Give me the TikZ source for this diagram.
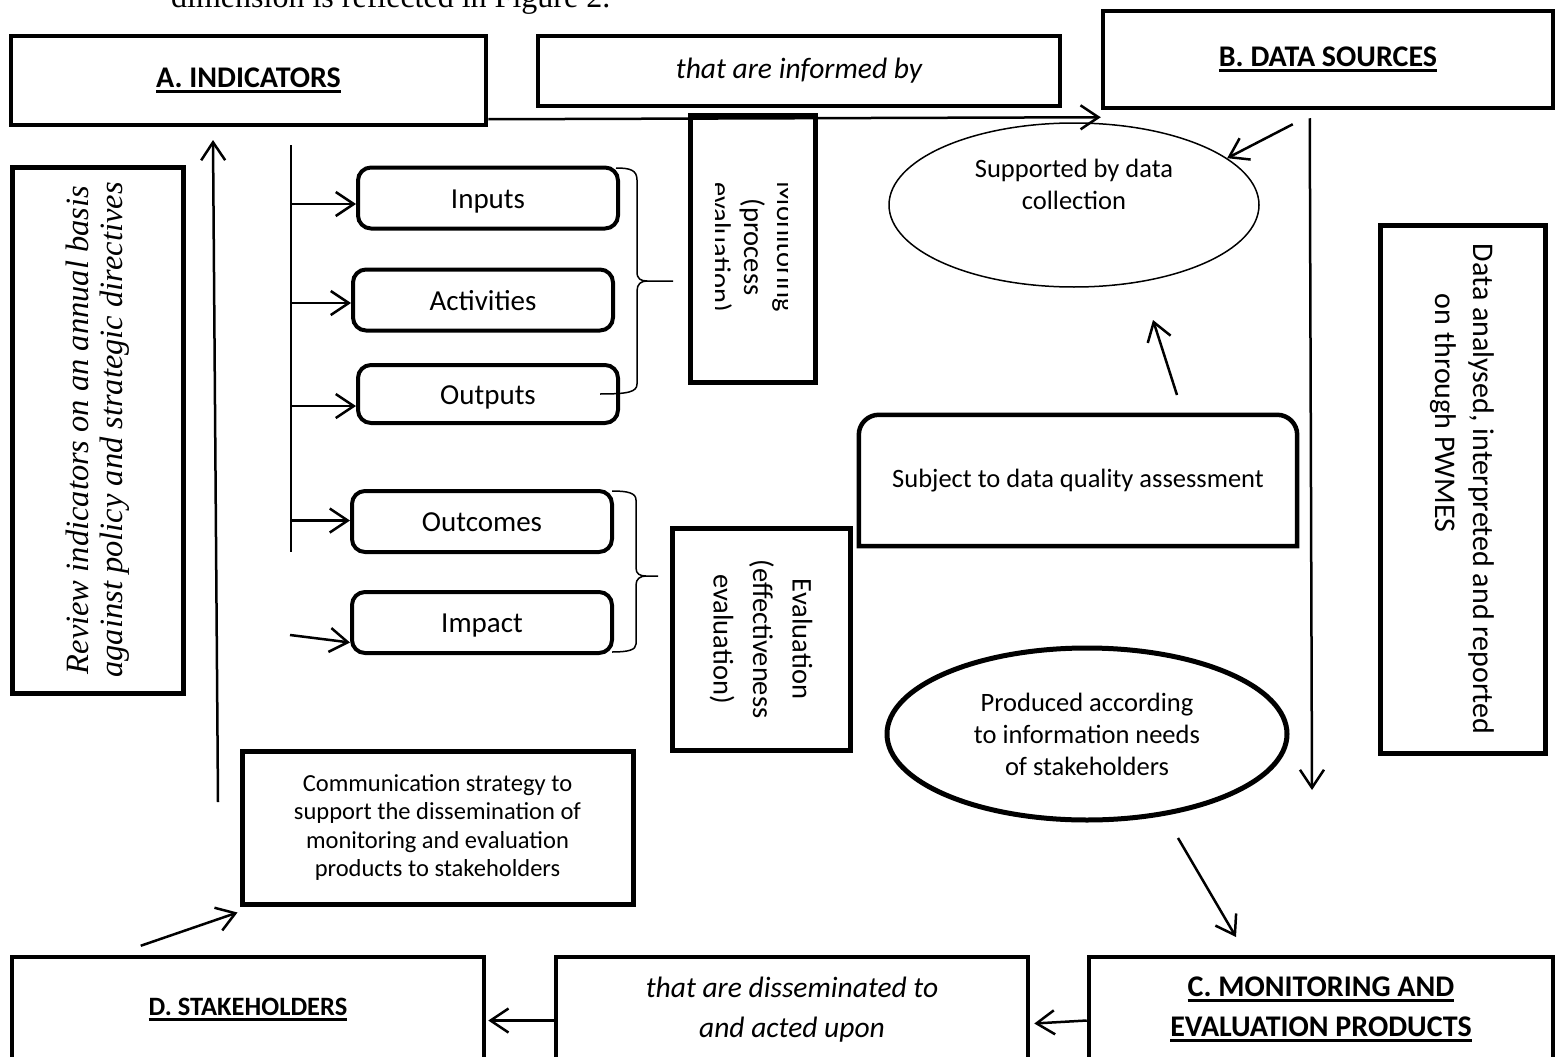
\documentclass[tikz,border=0pt]{standalone}
\usepackage{fontspec}
\setmainfont{Carlito}
\newfontfamily\timesf{Liberation Serif}
\usetikzlibrary{arrows.meta,calc,shapes.geometric}
\newcommand{\undl}[1]{\setbox0=\hbox{#1}\rlap{\rule[-6pt]{\wd0}{3pt}}\box0}

\begin{document}
\begin{tikzpicture}[x=1pt,y=-1pt,
    caja/.style={draw,line width=4.5pt,inner sep=0pt,align=center},
    titulo/.style={caja,font=\bfseries\fontsize{30}{40}\selectfont},
    enlace/.style={caja,font=\itshape\fontsize{29.5}{40}\selectfont},
    etapa/.style={draw,line width=4pt,rounded corners=13pt,minimum width=260pt,minimum height=61pt,inner sep=0pt,text height=20pt,text depth=0pt,font=\fontsize{29}{34}\selectfont},
    globo/.style={ellipse,draw,inner sep=0pt,align=center,font=\fontsize{26.5}{32}\selectfont},
    flecha/.style={line width=2.5pt,-{Straight Barb[length=18pt,width=24pt]}},
    linea/.style={line width=2.5pt}]

    % Marco
    \useasboundingbox (0,0) rectangle (1556,1057);
    \clip (0,0) rectangle (1556,1057);

    % Texto de arriba
    \node[anchor=base west,inner sep=0pt,font=\timesf\fontsize{32}{38}\selectfont] (intro) at (171,8) {dimension is reflected in Figure 2.};

    % Fila de arriba
    \node[titulo,minimum width=475pt,minimum height=89pt] (A) at (248.5,80.5) {\undl{A. INDICATORS}};
    \node[enlace,minimum width=522pt,minimum height=70pt] (inf) at (799,71) {that are informed by};
    \node[titulo,minimum width=450pt,minimum height=97pt] (B) at (1328,59.5) {\undl{B. DATA SOURCES}};

    % Cajas verticales
    \node[caja,line width=5pt,rotate=90,minimum width=526pt,minimum height=171pt,font=\timesf\itshape\fontsize{32.5}{34}\selectfont] (rev) at (97.5,430) {Review indicators on an annual basis\\against policy and strategic directives};
    \node[caja,line width=5pt,rotate=-90,align=left,minimum width=528pt,minimum height=165pt,font=\fontsize{30}{38}\selectfont] (pw) at (1462.5,489) {Data analysed, interpreted and reported\\\hspace*{50pt}on through PWMES};

    % Niveles de indicadores
    \node[etapa] (inp) at (488,198) {Inputs};
    \node[etapa] (act) at (483,300) {Activities};
    \node[etapa,minimum height=58pt] (outp) at (488,394) {Outputs};
    \node[etapa] (outc) at (482,521.5) {Outcomes};
    \node[etapa] (imp) at (482,622.5) {Impact};

    \coordinate (spine) at (291,145);
    \draw[linea] (spine) -- (291,552);
    \foreach \b/\dy in {inp/6,act/3,outp/12,outc/-1}
    {
        \path ($(\b.west)+(0,\dy)$) coordinate (tip);
        \draw[flecha] (spine |- tip) -- (tip);
    }
    \draw[flecha] (290,635) -- ($(imp.west)+(0,20)$);

    % Llaves
    \draw[line width=1.5pt] (616,168) .. controls (630,168) and (637,170) .. (637,180) -- (637,272)
        .. controls (637,279) and (641,281) .. (647,281) -- (673,281);
    \draw[line width=1.5pt] (647,281) .. controls (641,281) and (637,284) .. (637,291) -- (637,384)
        .. controls (637,392) and (628,394) .. (600,394);
    \draw[line width=1.5pt] (612,491) .. controls (628,491) and (636,493) .. (636,500) -- (636,568)
        .. controls (636,574) and (640,576) .. (646,576) -- (658,576);
    \draw[line width=1.5pt] (646,576) .. controls (640,576) and (636,579) .. (636,585) -- (636,644)
        .. controls (636,650) and (628,652) .. (612,652);

    % Monitoreo y evaluacion
    \node[caja,line width=5pt,minimum width=125pt,minimum height=267pt] (mon) at (752.5,248.5) {};
    \begin{scope}
        \clip (715,115) rectangle (787,382);
        \node[rotate=-90,align=center,font=\fontsize{28.5}{33}\selectfont] (mont) at (752,247) {Monitoring\\(process\\evaluation)};
    \end{scope}
    \node[caja,line width=5pt,rotate=-90,minimum width=222pt,minimum height=178pt,font=\fontsize{28.5}{39.5}\selectfont] (eva) at (761,639) {Evaluation\\(effectiveness\\evaluation)};

    % Lado derecho
    \node[globo,line width=1.5pt,minimum width=370pt,minimum height=164pt] (sup) at (1074,205) {Supported by data\\collection\\\strut};
    \node[minimum width=438pt,minimum height=131pt,font=\fontsize{26.5}{32}\selectfont] (sub) at (1078,480.5) {Subject to data quality assessment};
    \draw[line width=4.5pt] (sub.south west) [rounded corners=20pt] -- (sub.north west) -- (sub.north east) [sharp corners] -- (sub.south east) -- cycle;
    \node[globo,line width=5pt,minimum width=400pt,minimum height=172pt] (prod) at (1087,734) {Produced according\\to information needs\\of stakeholders};

    % Comunicacion
    \node[caja,line width=5pt,minimum width=391pt,minimum height=153pt,font=\fontsize{24.5}{28.5}\selectfont] (com) at (437.5,827.5) {Communication strategy to\\support the dissemination of\\monitoring and evaluation\\products to stakeholders};

    % Fila de abajo
    \node[titulo,minimum width=472pt,minimum height=105pt,font=\bfseries\fontsize{26.5}{40}\selectfont] (D) at (248,1009.5) {\undl{D. STAKEHOLDERS}};
    \node[enlace,minimum width=472pt,minimum height=105pt] (dis) at (792,1009.5) {that are disseminated to\\and acted upon};
    \node[titulo,minimum width=464pt,minimum height=105pt] (C) at (1321,1009.5) {\undl{C. MONITORING AND}\\\undl{EVALUATION PRODUCTS}};

    % Extremos libres
    \coordinate (bdown) at (1312,790);
    \coordinate (subtop) at (1177,395);
    \coordinate (suptip) at (1153,320);
    \coordinate (prodend) at (1178,838);
    \coordinate (ctip) at (1236,937);
    \coordinate (revbot) at (218,802);
    \coordinate (revtop) at (213,140);

    % Flechas
    \draw[flecha] ($(A.south east)+(0,-8)$) -- ($(B.south west)+(0,7)$);
    \draw[flecha] ($(B.south west)+(192,14)$) -- (sup.17);
    \draw[flecha] ($(B.south west)+(209,8)$) -- (bdown);
    \draw[flecha] (subtop) -- (suptip);
    \draw[flecha] (prodend) -- (ctip);
    \draw[flecha] ($(C.west)+(0,11)$) -- ($(dis.east)+(4,14)$);
    \draw[flecha] ($(dis.west)+(0,11)$) -- ($(D.east)+(2,11)$);
    \draw[flecha] ($(D.north west)+(131,-9)$) -- ($(com.south west)+(-2,6)$);
    \draw[flecha] (revbot) -- (revtop);

\end{tikzpicture}
\end{document}
